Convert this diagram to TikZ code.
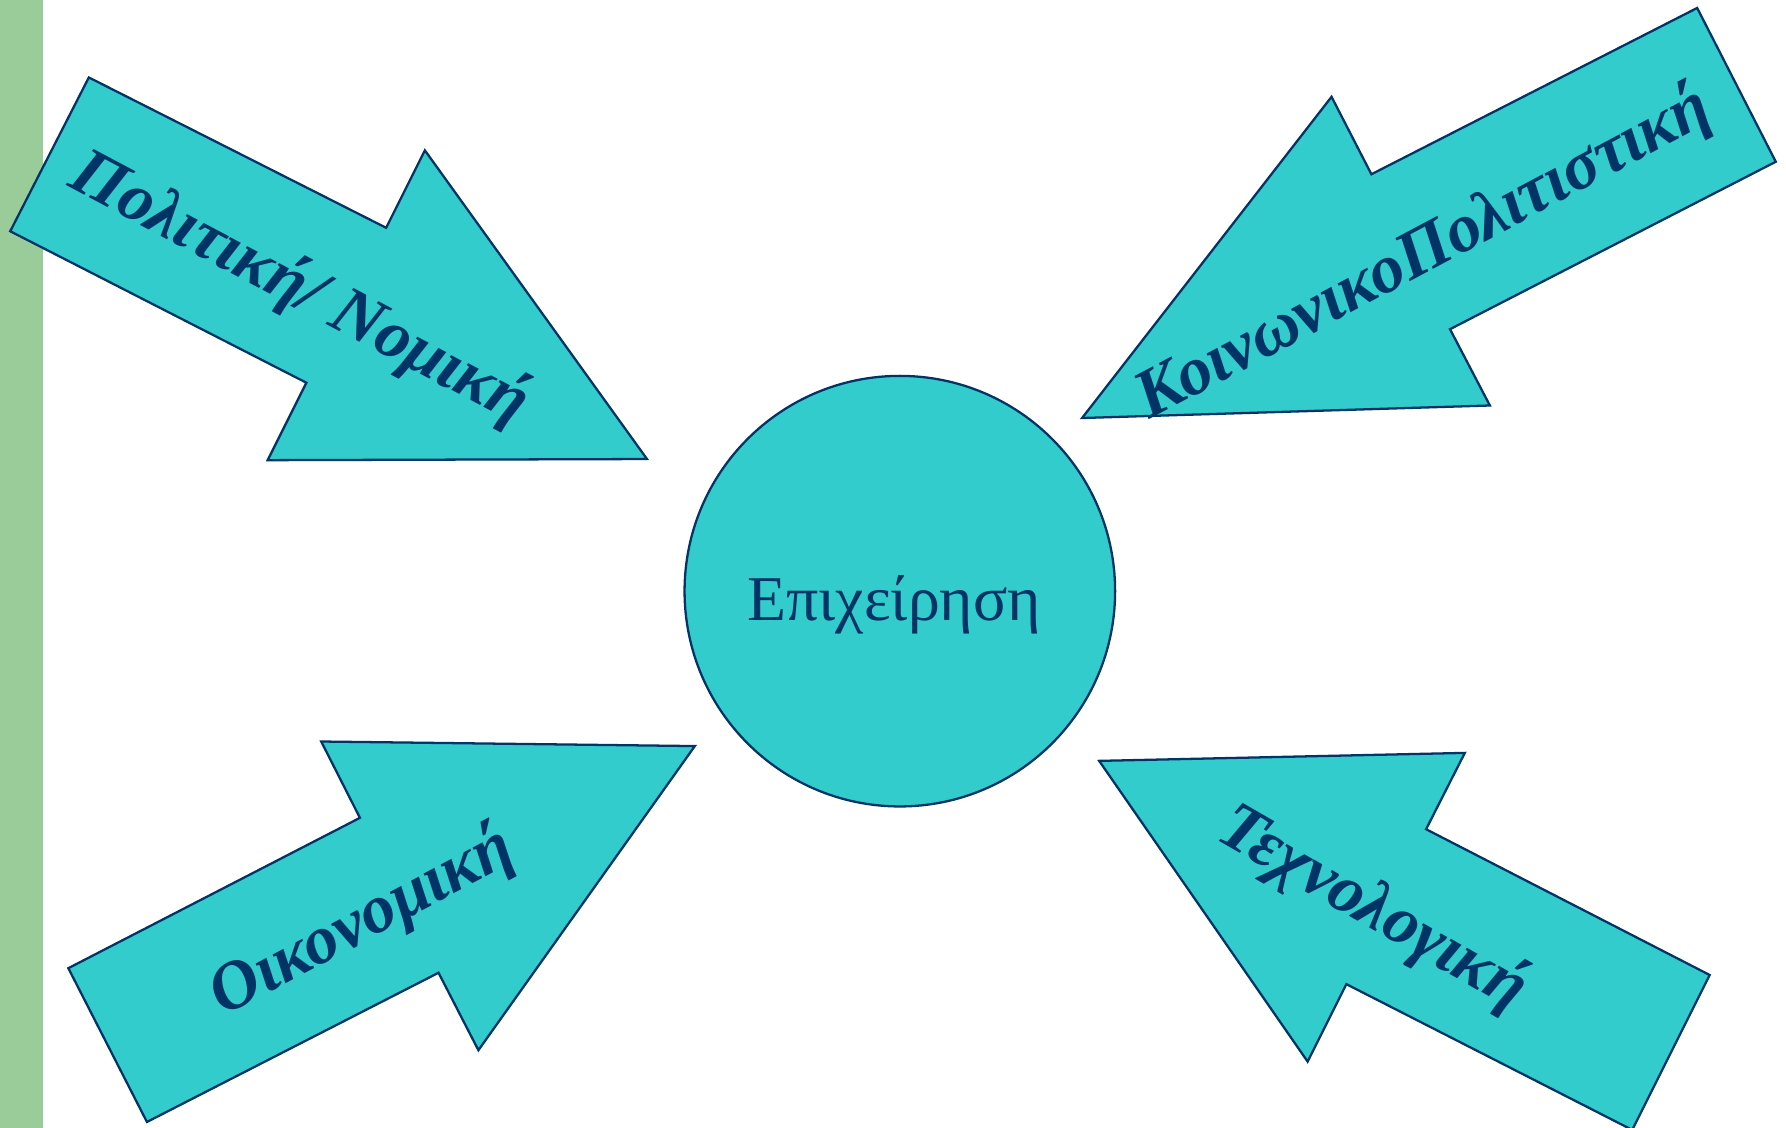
\documentclass[tikz,border=0pt]{standalone}
\usepackage{fontspec}
\setmainfont{Liberation Serif}
\definecolor{shapefill}{HTML}{33CCCC}
\definecolor{shapeline}{HTML}{003366}
\definecolor{bargreen}{HTML}{99CC99}
\begin{document}
\begin{tikzpicture}[x=1pt,y=-1pt,
  forcearrow/.style={fill=shapefill,draw=shapeline,line width=2pt,line join=miter},
  forcelabel/.style={text=shapeline,inner sep=0pt,
    font=\fontsize{60}{60}\selectfont\bfseries\itshape},
  firmbox/.style={circle,fill=shapefill,draw=shapeline,line width=2pt,
    minimum size=378pt,inner sep=0pt,text=shapeline,
    font=\fontsize{56}{56}\selectfont}]
\useasboundingbox (0,0) rectangle (1568,990);
% side band
\fill[bargreen] (0,0) rectangle (38,990);

% the firm
\node[firmbox] (firm) at (790,519) {};
\node[text=shapeline,inner sep=0pt,font=\fontsize{56}{56}\selectfont,
  anchor=base] (firmname) at (785,545) {Επιχείρηση};

% political / legal forces
\draw[forcearrow] (78,68) -- (339,200) -- (373,132) -- (568,403)
  -- (235,404) -- (269,336) -- (9,203) -- cycle;
\node[forcelabel,rotate=-28] (pol) at (263,254) {Πολιτική/ Νομική};

% socio-cultural forces
\draw[forcearrow] (1490,7) -- (1559,142) -- (1273,289) -- (1308,356)
  -- (950,367) -- (1169,85) -- (1204,153) -- cycle;
\node[forcelabel,rotate=28] (soc) at (1250,223) {ΚοινωνικοΠολιτιστική};

% economic forces
\draw[forcearrow] (60,850) -- (316,718) -- (282,651) -- (610,655)
  -- (420,922) -- (385,854) -- (129,985) -- cycle;
\node[forcelabel,rotate=28] (eco) at (318,810) {Οικονομική};

% technological forces
\draw[forcearrow] (965,668) -- (1286,661) -- (1252,728) -- (1501,856)
  -- (1433,992) -- (1182,864) -- (1148,932) -- cycle;
\node[forcelabel,rotate=-30] (tech) at (1205,798) {Τεχνολογική};
\end{tikzpicture}
\end{document}
